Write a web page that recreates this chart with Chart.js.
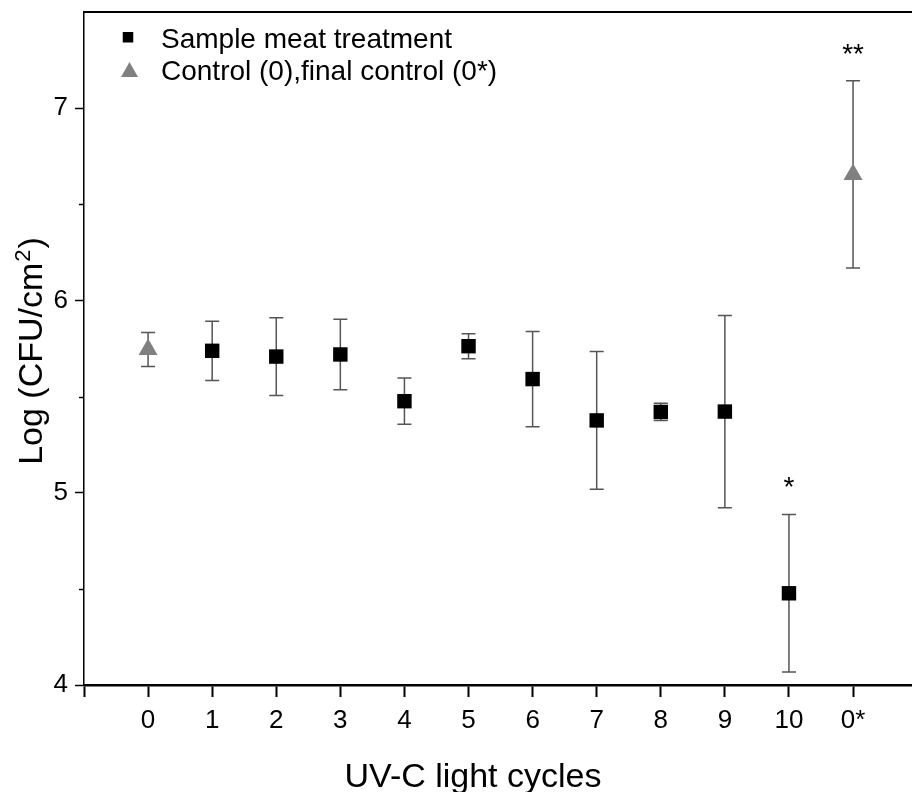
<!DOCTYPE html>
<html><head><meta charset="utf-8">
<script src="https://cdn.jsdelivr.net/npm/chart.js@4.4.1/dist/chart.umd.min.js"></script>
<style>html,body{margin:0;padding:0;background:#fff;overflow:hidden}canvas{display:block}</style>
</head><body>
<canvas id="c" width="912" height="792"></canvas>
<script>
// ---- data ----
const categories = ['0','1','2','3','4','5','6','7','8','9','10','0*'];
const treatmentCycles = ['1','2','3','4','5','6','7','8','9','10'];
const treatmentMean = [5.738,5.708,5.719,5.476,5.762,5.591,5.376,5.420,5.422,4.477];
const treatmentSD   = [0.154,0.202,0.183,0.120,0.065,0.248,0.358,0.045,0.500,0.410];
const controlCycles = ['0','0*'];
const controlMean = [5.745,6.655];
const controlSD   = [0.088,0.487];
const sigCycles = ['10','0*'];
const sigMarks  = ['*','**'];
const yTicks = [4,5,6,7];
const yMinorTicks = [4.5,5.5,6.5];
const seriesNames = ['Sample meat treatment','Control (0),final control (0*)'];
const xTitle = 'UV-C light cycles';
const yTitleMain = 'Log (CFU/cm', yTitleSup = '2', yTitleEnd = ')';

const FONT = '"Liberation Sans", Arial, sans-serif';
const GREY = '#808080';
const pos = c => categories.indexOf(c);
const treatData = treatmentCycles.map((c,i)=>({x:pos(c), y:treatmentMean[i], sd:treatmentSD[i]}));
const controlData = controlCycles.map((c,i)=>({x:pos(c), y:controlMean[i], sd:controlSD[i]}));

const custom = {
  id:'custom',
  beforeDatasetsDraw(chart){
    const ctx = chart.ctx, xs = chart.scales.x, ys = chart.scales.y;
    ctx.save();
    ctx.strokeStyle = '#555'; ctx.lineWidth = 1.5;
    chart.data.datasets.forEach(ds=>{
      ds.data.forEach(p=>{
        const px = xs.getPixelForValue(p.x);
        const t = ys.getPixelForValue(p.y+p.sd), b = ys.getPixelForValue(p.y-p.sd);
        ctx.beginPath();
        ctx.moveTo(px,t); ctx.lineTo(px,b);
        ctx.moveTo(px-7,t); ctx.lineTo(px+7,t);
        ctx.moveTo(px-7,b); ctx.lineTo(px+7,b);
        ctx.stroke();
      });
    });
    ctx.restore();
  },
  afterDraw(chart){
    const ctx = chart.ctx, xs = chart.scales.x, ys = chart.scales.y, ca = chart.chartArea;
    ctx.save();
    // minor y ticks
    ctx.strokeStyle = '#000'; ctx.lineWidth = 1.5;
    yMinorTicks.forEach(v=>{
      const py = Math.round(ys.getPixelForValue(v))+0.5;
      ctx.beginPath(); ctx.moveTo(ca.left-5,py); ctx.lineTo(ca.left,py); ctx.stroke();
    });
    // significance marks
    ctx.fillStyle = '#000';
    ctx.font = '28px ' + FONT;
    ctx.textAlign = 'center'; ctx.textBaseline = 'alphabetic';
    const all = treatData.concat(controlData);
    sigCycles.forEach((c,i)=>{
      const p = all.find(d=>d.x===pos(c));
      const px = xs.getPixelForValue(p.x);
      const top = ys.getPixelForValue(p.y+p.sd);
      ctx.fillText(sigMarks[i], px, top-18);
    });
    // legend
    const lx = ca.left + 44;
    ctx.fillStyle = '#000';
    ctx.fillRect(lx-5.25, 32, 10.5, 10.5);
    ctx.fillStyle = GREY;
    ctx.beginPath(); ctx.moveTo(lx+1.5, 62); ctx.lineTo(lx+10, 77); ctx.lineTo(lx-7, 77); ctx.closePath(); ctx.fill();
    ctx.fillStyle = '#000';
    ctx.font = '28px ' + FONT;
    ctx.textAlign = 'left';
    ctx.fillText(seriesNames[0], 161, 47.5);
    ctx.fillText(seriesNames[1], 161, 79.5);
    // x title
    ctx.font = '34px ' + FONT;
    ctx.textAlign = 'center';
    ctx.fillText(xTitle, 473, 787);
    // y title
    ctx.translate(42, 352); ctx.rotate(-Math.PI/2);
    ctx.textAlign = 'left';
    const mainF = '34px ' + FONT, supF = '22px ' + FONT;
    ctx.font = mainF; const w1 = ctx.measureText(yTitleMain).width, w3 = ctx.measureText(yTitleEnd).width;
    ctx.font = supF; const w2 = ctx.measureText(yTitleSup).width;
    let sx = -(w1+w2+w3)/2;
    ctx.font = mainF; ctx.fillText(yTitleMain, sx, 0);
    ctx.font = supF; ctx.fillText(yTitleSup, sx+w1+1, -12);
    ctx.font = mainF; ctx.fillText(yTitleEnd, sx+w1+w2+2, 0);
    ctx.restore();
  }
};

new Chart(document.getElementById('c'), {
  type:'scatter',
  data:{ datasets:[
    {label:seriesNames[0], data:treatData, pointStyle:'rect', pointRadius:10.2, pointHoverRadius:10.2,
     backgroundColor:'#000', borderColor:'#000', borderWidth:0},
    {label:seriesNames[1], data:controlData, pointStyle:'triangle', pointRadius:11, pointHoverRadius:11,
     backgroundColor:GREY, borderColor:GREY, borderWidth:0}
  ]},
  options:{
    responsive:false, animation:false, devicePixelRatio:1,
    layout:{padding:0, autoPadding:false},
    plugins:{legend:{display:false}, tooltip:{enabled:false}},
    events:[],
    scales:{
      x:{type:'linear', position:'bottom', min:-1, max:11.92,
        afterBuildTicks:s=>{ s.ticks = [-1].concat(categories.map((c,i)=>i)).map(v=>({value:v})); },
        ticks:{callback:v=>categories[v] ?? '', font:{family:FONT,size:26}, color:'#000', padding:8, maxRotation:0, autoSkip:false},
        grid:{display:true, drawOnChartArea:false, drawTicks:true, tickLength:12, tickWidth:2, tickColor:'#000'},
        border:{display:true, color:'#000', width:2.5},
        afterFit:s=>{ s.height = 107; s.paddingLeft=0; s.paddingRight=0; }
      },
      x2:{type:'linear', position:'top', min:-1, max:11.92,
        afterBuildTicks:s=>{ s.ticks = []; },
        ticks:{display:false}, grid:{display:false, drawTicks:false},
        border:{display:true, color:'#000', width:2},
        afterFit:s=>{ s.height = 12; s.paddingLeft=0; s.paddingRight=0; }
      },
      y:{type:'linear', position:'left', min:4, max:7.5,
        afterBuildTicks:s=>{ s.ticks = yTicks.map(v=>({value:v})); },
        ticks:{font:{family:FONT,size:26}, color:'#000', padding:7},
        grid:{display:true, drawOnChartArea:false, drawTicks:true, tickLength:9, tickWidth:1.5, tickColor:'#000'},
        border:{display:true, color:'#000', width:1.5},
        afterFit:s=>{ s.width = 84; s.paddingTop=0; s.paddingBottom=0; }
      }
    }
  },
  plugins:[custom]
});
</script>
</body></html>
